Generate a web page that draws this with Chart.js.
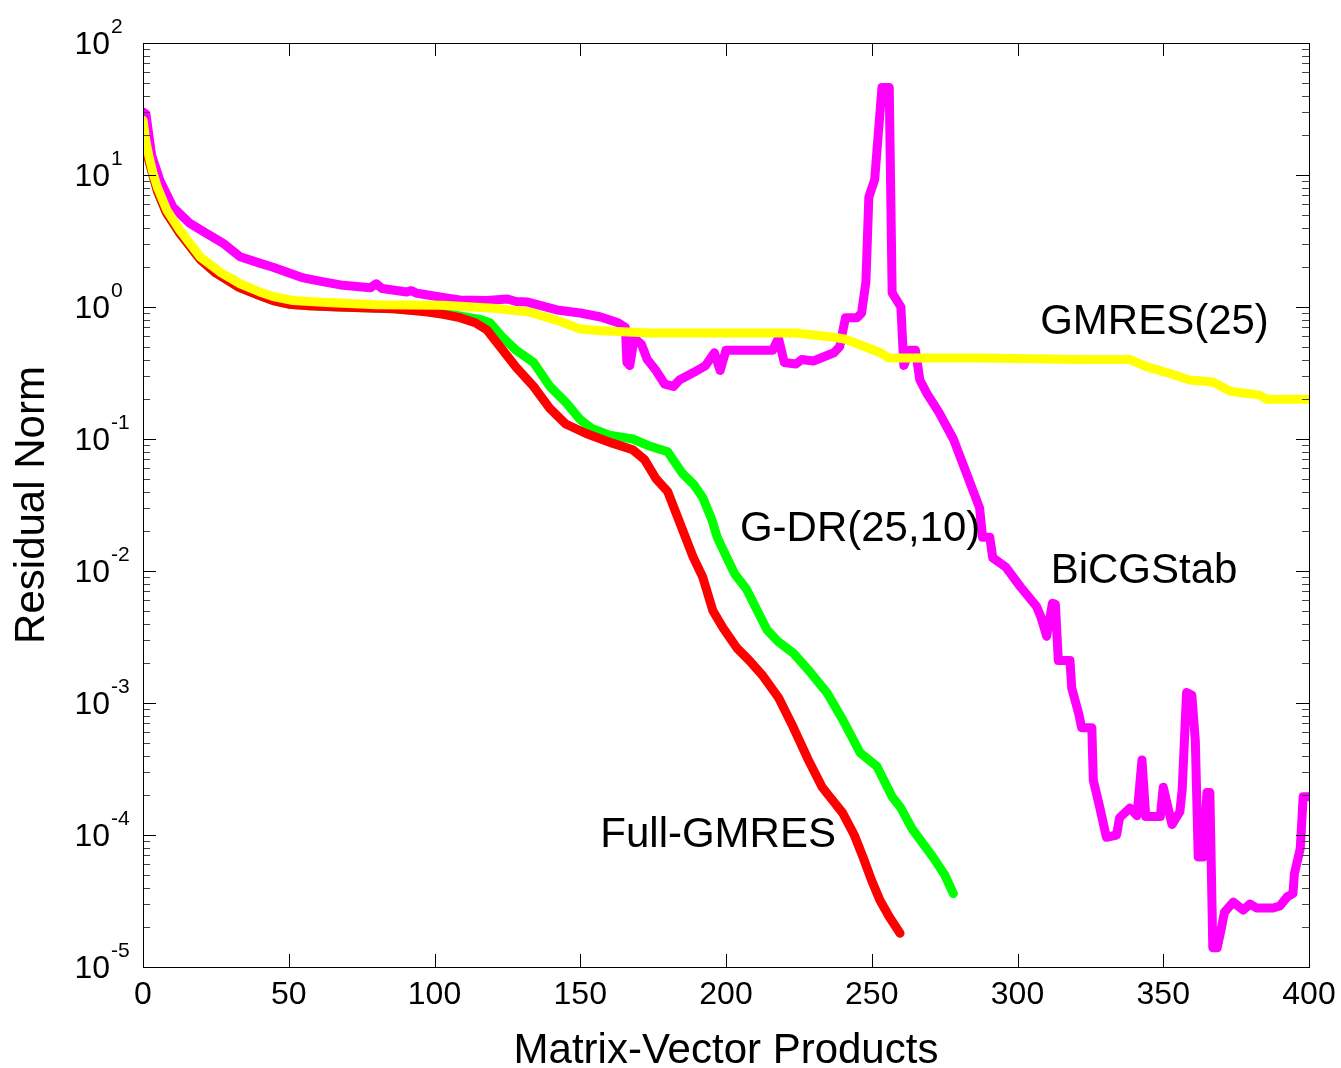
<!DOCTYPE html>
<html>
<head>
<meta charset="utf-8">
<script src="https://cdn.jsdelivr.net/npm/chart.js@4"></script>
<style>
  html, body { margin: 0; padding: 0; background: #fff; }
  #wrap { width: 1341px; height: 1068px; }
</style>
</head>
<body>
<div id="wrap"><canvas id="chart" width="1341" height="1068"></canvas></div>
<script>
// Datos (residuo vs productos matriz-vector)
const fullGmresX = [0, 1, 2, 3.4, 5, 8, 12.7, 19.6, 25, 33, 40, 44.6, 50, 57, 67, 86, 97, 103, 108.7, 114, 118, 122.5, 128, 134, 139.6, 145, 152, 161, 168, 172, 176, 180, 183, 188.7, 192, 195.5, 199, 203.8, 208, 212.7, 218, 223, 228, 233, 236, 240, 244, 247, 250, 252.8, 256, 259.7];
const fullGmresY = [24, 17, 13, 10, 7.5, 5.2, 3.6, 2.3, 1.81, 1.41, 1.22, 1.12, 1.05, 1.02, 1.0, 0.97, 0.92, 0.88, 0.83, 0.76, 0.67, 0.5, 0.35, 0.25, 0.17, 0.13, 0.11, 0.093, 0.083, 0.07, 0.05, 0.04, 0.027, 0.0128, 0.009, 0.005, 0.0037, 0.0026, 0.0021, 0.0016, 0.0011, 0.00066, 0.00038, 0.00023, 0.00019, 0.000147, 0.0001, 0.000068, 0.000045, 0.000032, 0.000024, 0.000018];

const gdrX = [0, 1, 2, 3.4, 5, 8, 12.7, 19.6, 25, 33, 40, 44.6, 50, 57, 67, 86, 97, 103, 108, 112, 116, 119, 123, 128, 134, 139.6, 145, 150, 154, 160, 168, 174, 180, 185, 189, 192, 195, 197, 200, 203, 207, 214, 218, 223, 229, 234.6, 240, 246, 251.8, 257, 260, 264, 271, 275, 278];
const gdrY = [24, 17, 13, 10, 7.5, 5.2, 3.6, 2.3, 1.81, 1.41, 1.22, 1.12, 1.05, 1.02, 1.0, 0.97, 0.93, 0.9, 0.86, 0.83, 0.8, 0.76, 0.6, 0.47, 0.38, 0.25, 0.19, 0.14, 0.12, 0.107, 0.1, 0.088, 0.08, 0.055, 0.045, 0.036, 0.025, 0.018, 0.013, 0.0095, 0.0073, 0.0036, 0.0029, 0.0024, 0.0017, 0.0012, 0.00075, 0.00042, 0.00033, 0.000195, 0.00016, 0.00011, 0.000068, 0.00005, 0.000036];

const bicgX = [0, 1, 2, 3, 5.8, 10.3, 16.1, 21.9, 27.4, 33.3, 40, 44.6, 55, 62, 68.6, 78, 80, 82, 90.5, 92, 94, 104, 108.7, 118, 125, 128, 132, 142, 150, 157, 163, 165.5, 166, 167, 168.5, 171, 173, 176, 179, 182, 184, 189, 193, 196, 198, 200, 216, 218, 220, 224, 226, 230, 237, 239, 241, 245, 246.5, 248, 249, 251, 253.5, 256, 257, 260, 261, 263, 265, 266.5, 269, 273, 278, 282.5, 287, 288, 290.5, 291.5, 296, 301, 306.5, 308, 310, 312, 313, 314, 318, 318.6, 321, 322, 325.5, 326, 328, 330.5, 334, 335, 338.6, 341, 342.7, 344, 349, 350, 353, 355.7, 356.5, 358, 359.8, 361, 362, 363.7, 365, 366, 367, 368.5, 370, 371, 374, 377.4, 379.8, 382, 387.7, 390, 392.5, 394.5, 395, 397, 398, 400];
const bicgY = [30, 29, 20, 14, 9.1, 5.7, 4.3, 3.6, 3.05, 2.4, 2.15, 2.0, 1.66, 1.55, 1.46, 1.4, 1.5, 1.38, 1.3, 1.33, 1.27, 1.17, 1.13, 1.12, 1.15, 1.1, 1.09, 0.95, 0.9, 0.84, 0.76, 0.7, 0.38, 0.36, 0.58, 0.52, 0.4, 0.33, 0.26, 0.25, 0.28, 0.32, 0.36, 0.45, 0.33, 0.47, 0.47, 0.58, 0.38, 0.37, 0.4, 0.39, 0.45, 0.5, 0.83, 0.83, 0.9, 1.55, 6.8, 9.2, 46, 46, 1.28, 1.0, 0.36, 0.47, 0.47, 0.28, 0.22, 0.16, 0.1, 0.055, 0.03, 0.018, 0.018, 0.0126, 0.0107, 0.0076, 0.0054, 0.0045, 0.0032, 0.0057, 0.0056, 0.0021, 0.0021, 0.0013, 0.00083, 0.00065, 0.00065, 0.00026, 0.00017, 0.000096, 0.0001, 0.000135, 0.00016, 0.00014, 0.00037, 0.000138, 0.000138, 0.00023, 0.00012, 0.00015, 0.00022, 0.0012, 0.00115, 0.00052, 0.000068, 0.000068, 0.00021, 0.00021, 0.000014, 0.000014, 0.00002, 0.000026, 0.000031, 0.000027, 0.00003, 0.000028, 0.000028, 0.000029, 0.000034, 0.000036, 0.000051, 0.000079, 0.000195, 0.000195];

const gmres25X = [0, 1, 2, 3.4, 5, 8.2, 12.7, 19.6, 26.4, 33.3, 40, 44.6, 51.5, 63, 80, 103, 120, 132, 143, 150, 157, 174, 224, 237, 241, 253, 256, 287, 321, 338.6, 344, 351, 359, 367, 373, 383, 385.6, 400];
const gmres25Y = [26, 18, 14, 10.4, 8, 5.4, 3.8, 2.4, 1.84, 1.5, 1.3, 1.2, 1.12, 1.08, 1.04, 1.03, 0.98, 0.92, 0.78, 0.68, 0.66, 0.635, 0.635, 0.59, 0.57, 0.45, 0.41, 0.41, 0.40, 0.40, 0.355, 0.32, 0.28, 0.27, 0.23, 0.215, 0.2, 0.2];

// Etiquetas de las curvas (posición en coordenadas de datos)
const curveLabels = ['GMRES(25)', 'G-DR(25,10)', 'BiCGStab', 'Full-GMRES'];
const curveLabelX = [347, 246, 343.4, 197.3];
const curveLabelY = [0.77, 0.0205, 0.01, 0.0001];

const xTicks = [0, 50, 100, 150, 200, 250, 300, 350, 400];
const yExponents = [2, 1, 0, -1, -2, -3, -4, -5];

const FONT = '"Liberation Sans", Arial, sans-serif';

function toPoints(xs, ys) {
    return xs.map((x, i) => ({ x: x, y: ys[i] }));
}

function lineDataset(label, xs, ys, color, order) {
    return {
        label: label,
        data: toPoints(xs, ys),
        borderColor: color,
        backgroundColor: color,
        borderWidth: 9,
        pointRadius: 0,
        tension: 0,
        borderJoinStyle: 'round',
        borderCapStyle: 'round',
        order: order
    };
}

/**
 * Dibuja la caja, marcas interiores, etiquetas del eje Y con exponente y textos de curvas
 */
const matlabAxes = {
    id: 'matlabAxes',
    afterDraw(chart) {
        const ctx = chart.ctx;
        const area = chart.chartArea;
        const xs = chart.scales.x;
        const ys = chart.scales.y;

        ctx.save();
        ctx.strokeStyle = '#000';
        ctx.lineWidth = 1;

        // Marcas del eje X (abajo y arriba)
        xTicks.forEach(v => {
            const px = Math.round(xs.getPixelForValue(v)) + 0.5;
            ctx.beginPath();
            ctx.moveTo(px, area.bottom);
            ctx.lineTo(px, area.bottom - 13);
            ctx.moveTo(px, area.top);
            ctx.lineTo(px, area.top + 13);
            ctx.stroke();
        });

        // Marcas del eje Y (mayores y menores, izquierda y derecha)
        for (let e = -5; e <= 2; e++) {
            for (let m = 1; m <= 9; m++) {
                if (e === 2 && m > 1) break;
                const py = Math.round(ys.getPixelForValue(m * Math.pow(10, e))) + 0.5;
                const len = m === 1 ? 13 : 7;
                ctx.strokeStyle = m === 1 ? '#000' : '#444';
                ctx.beginPath();
                ctx.moveTo(area.left, py);
                ctx.lineTo(area.left + len, py);
                ctx.moveTo(area.right, py);
                ctx.lineTo(area.right - len, py);
                ctx.stroke();
            }
        }

        // Caja
        ctx.strokeStyle = '#000';
        ctx.strokeRect(Math.round(area.left) + 0.5, Math.round(area.top) + 0.5,
            Math.round(area.right - area.left), Math.round(area.bottom - area.top));

        // Etiquetas Y: 10 con exponente
        ctx.fillStyle = '#000';
        yExponents.forEach(e => {
            const py = ys.getPixelForValue(Math.pow(10, e));
            ctx.font = '32px ' + FONT;
            ctx.textAlign = 'right';
            ctx.textBaseline = 'alphabetic';
            ctx.fillText('10', 110, py + 11);
            ctx.font = '21px ' + FONT;
            ctx.textAlign = 'left';
            ctx.fillText(String(e), 111, py - 10);
        });

        // Textos de las curvas
        ctx.font = '42px ' + FONT;
        ctx.textAlign = 'center';
        ctx.textBaseline = 'middle';
        curveLabels.forEach((t, i) => {
            ctx.fillText(t, xs.getPixelForValue(curveLabelX[i]), ys.getPixelForValue(curveLabelY[i]));
        });
        ctx.restore();
    }
};

const ctx = document.getElementById('chart').getContext('2d');
const chart = new Chart(ctx, {
    type: 'line',
    data: {
        datasets: [
            lineDataset('GMRES(25)', gmres25X, gmres25Y, '#ffff00', 0),
            lineDataset('BiCGStab', bicgX, bicgY, '#ff00ff', 1),
            lineDataset('Full-GMRES', fullGmresX, fullGmresY, '#ff0000', 2),
            lineDataset('G-DR(25,10)', gdrX, gdrY, '#00ff00', 3)
        ]
    },
    options: {
        responsive: false,
        animation: false,
        devicePixelRatio: 1,
        layout: { padding: { top: 43, right: 32, bottom: 0, left: 0 } },
        plugins: {
            legend: { display: false },
            tooltip: { enabled: false }
        },
        scales: {
            x: {
                type: 'linear',
                min: 0,
                max: 400,
                grid: { display: false, drawTicks: false },
                border: { display: false },
                ticks: {
                    stepSize: 50,
                    padding: 9,
                    color: '#000',
                    font: { size: 32, family: FONT },
                    maxRotation: 0
                },
                title: {
                    display: true,
                    text: 'Matrix-Vector Products',
                    color: '#000',
                    font: { size: 42, family: FONT },
                    padding: { top: 0, bottom: -9 }
                },
                afterFit(scale) {
                    scale.height = 101;
                    scale.paddingLeft = 0;
                    scale.paddingRight = 0;
                }
            },
            y: {
                type: 'logarithmic',
                min: 1e-5,
                max: 100,
                grid: { display: false, drawTicks: false },
                border: { display: false },
                ticks: { display: false },
                title: {
                    display: true,
                    text: 'Residual Norm',
                    color: '#000',
                    font: { size: 42, family: FONT },
                    padding: { top: 7, bottom: 0 }
                },
                afterFit(scale) { scale.width = 143; }
            }
        }
    },
    plugins: [matlabAxes]
});
</script>
</body>
</html>
